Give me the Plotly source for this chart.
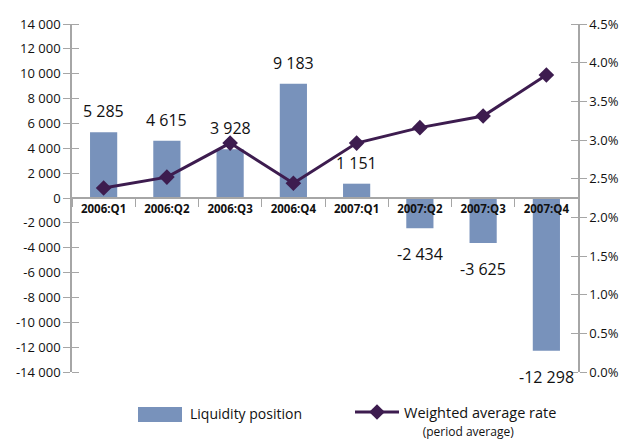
import plotly.graph_objects as go

quarters = ["2006:Q1", "2006:Q2", "2006:Q3", "2006:Q4",
            "2007:Q1", "2007:Q2", "2007:Q3", "2007:Q4"]
liquidity = [5285, 4615, 3928, 9183, 1151, -2434, -3625, -12298]
rate = [2.38, 2.52, 2.96, 2.44, 2.96, 3.16, 3.31, 3.84]

left_ticks = list(range(-14000, 14001, 2000))
right_ticks = [0.0, 0.5, 1.0, 1.5, 2.0, 2.5, 3.0, 3.5, 4.0, 4.5]


def spaced(v):
    # 14000 -> "14 000", keeps a plain hyphen for negatives
    return f"{v:,}".replace(",", " ")


BAR = "#7892bb"
LINE = "#3d1c4f"
AXIS = "#a6a6a6"
TXT = "#111111"
FONT = "Open Sans"

W, H = 626, 441
L, R, T, B = 72, 48, 24, 69


def px(x, y):
    # pixel position -> paper coords (used for the hand-made legend patch)
    return (x - L) / (W - L - R), (H - B - y) / (H - T - B)


fig = go.Figure()

fig.add_trace(go.Bar(
    x=quarters, y=liquidity, name="Liquidity position", showlegend=False,
    marker=dict(color=BAR, line=dict(width=0)), width=0.43,
))
fig.add_trace(go.Scatter(
    x=quarters, y=rate, yaxis="y2", mode="lines+markers",
    name="Weighted average rate<br><span style='font-size:12px'>"
         "\u00a0\u00a0\u00a0\u00a0\u00a0\u00a0(period average)</span>",
    line=dict(color=LINE, width=3),
    marker=dict(symbol="diamond", size=12, color=LINE),
))

# value labels over / under the bars
for q, v in zip(quarters, liquidity):
    fig.add_annotation(
        x=q, y=v, text=spaced(v), showarrow=False,
        yshift=21 if v > 0 else -26,
        font=dict(size=16, color=TXT, family=FONT),
    )

# legend patch for the bars (plotly's own bar swatch is too small)
x0, y0 = px(138, 422)
x1, y1 = px(182, 407)
fig.add_shape(type="rect", xref="paper", yref="paper",
              x0=x0, x1=x1, y0=y0, y1=y1,
              fillcolor=BAR, line=dict(width=0))
tx, ty = px(188, 414)
fig.add_annotation(xref="paper", yref="paper", x=tx, y=ty,
                   xanchor="left", yanchor="middle", showarrow=False,
                   text="Liquidity position", font=dict(size=14, color=TXT))

fig.update_layout(
    width=W, height=H,
    margin=dict(l=L, r=R, t=T, b=B, autoexpand=False),
    paper_bgcolor="white", plot_bgcolor="white",
    font=dict(family=FONT, color=TXT, size=13),
    showlegend=True,
    legend=dict(
        orientation="h", xref="container", x=350 / W, xanchor="left",
        yref="container", y=(H - 396) / H, yanchor="top",
        itemwidth=44, font=dict(size=14.5, color=TXT),
        valign="top",
    ),
    xaxis=dict(
        type="category", range=[-0.5, 7.5],
        anchor="free", position=0.5,
        showline=True, linecolor=AXIS, linewidth=1.5,
        ticks="outside", ticklen=8, tickcolor=AXIS, tickson="boundaries",
        tickfont=dict(size=11.5, color=TXT, family=FONT, weight="bold"),
        showgrid=False, zeroline=False,
    ),
    yaxis=dict(
        range=[-14000, 14000], tickvals=left_ticks,
        ticktext=[spaced(v) for v in left_ticks],
        showline=True, linecolor=AXIS, linewidth=1.5,
        ticks="outside", ticklen=7, tickcolor=AXIS,
        minor=dict(ticks="inside", tickvals=left_ticks, ticklen=7, tickcolor=AXIS),
        showgrid=False, zeroline=False, tickfont=dict(size=13),
    ),
    yaxis2=dict(
        range=[0, 4.5], tickvals=right_ticks,
        ticktext=[f"{v:.1f}%" for v in right_ticks],
        overlaying="y", side="right", anchor="x",
        showline=True, linecolor=AXIS, linewidth=1.5,
        ticks="outside", ticklen=7, tickcolor=AXIS,
        minor=dict(ticks="inside", tickvals=right_ticks, ticklen=7, tickcolor=AXIS),
        showgrid=False, zeroline=False, tickfont=dict(size=13),
    ),
)

fig.write_html("out.html", config={"displayModeBar": False},
               post_script="document.body.style.margin='0px';")
